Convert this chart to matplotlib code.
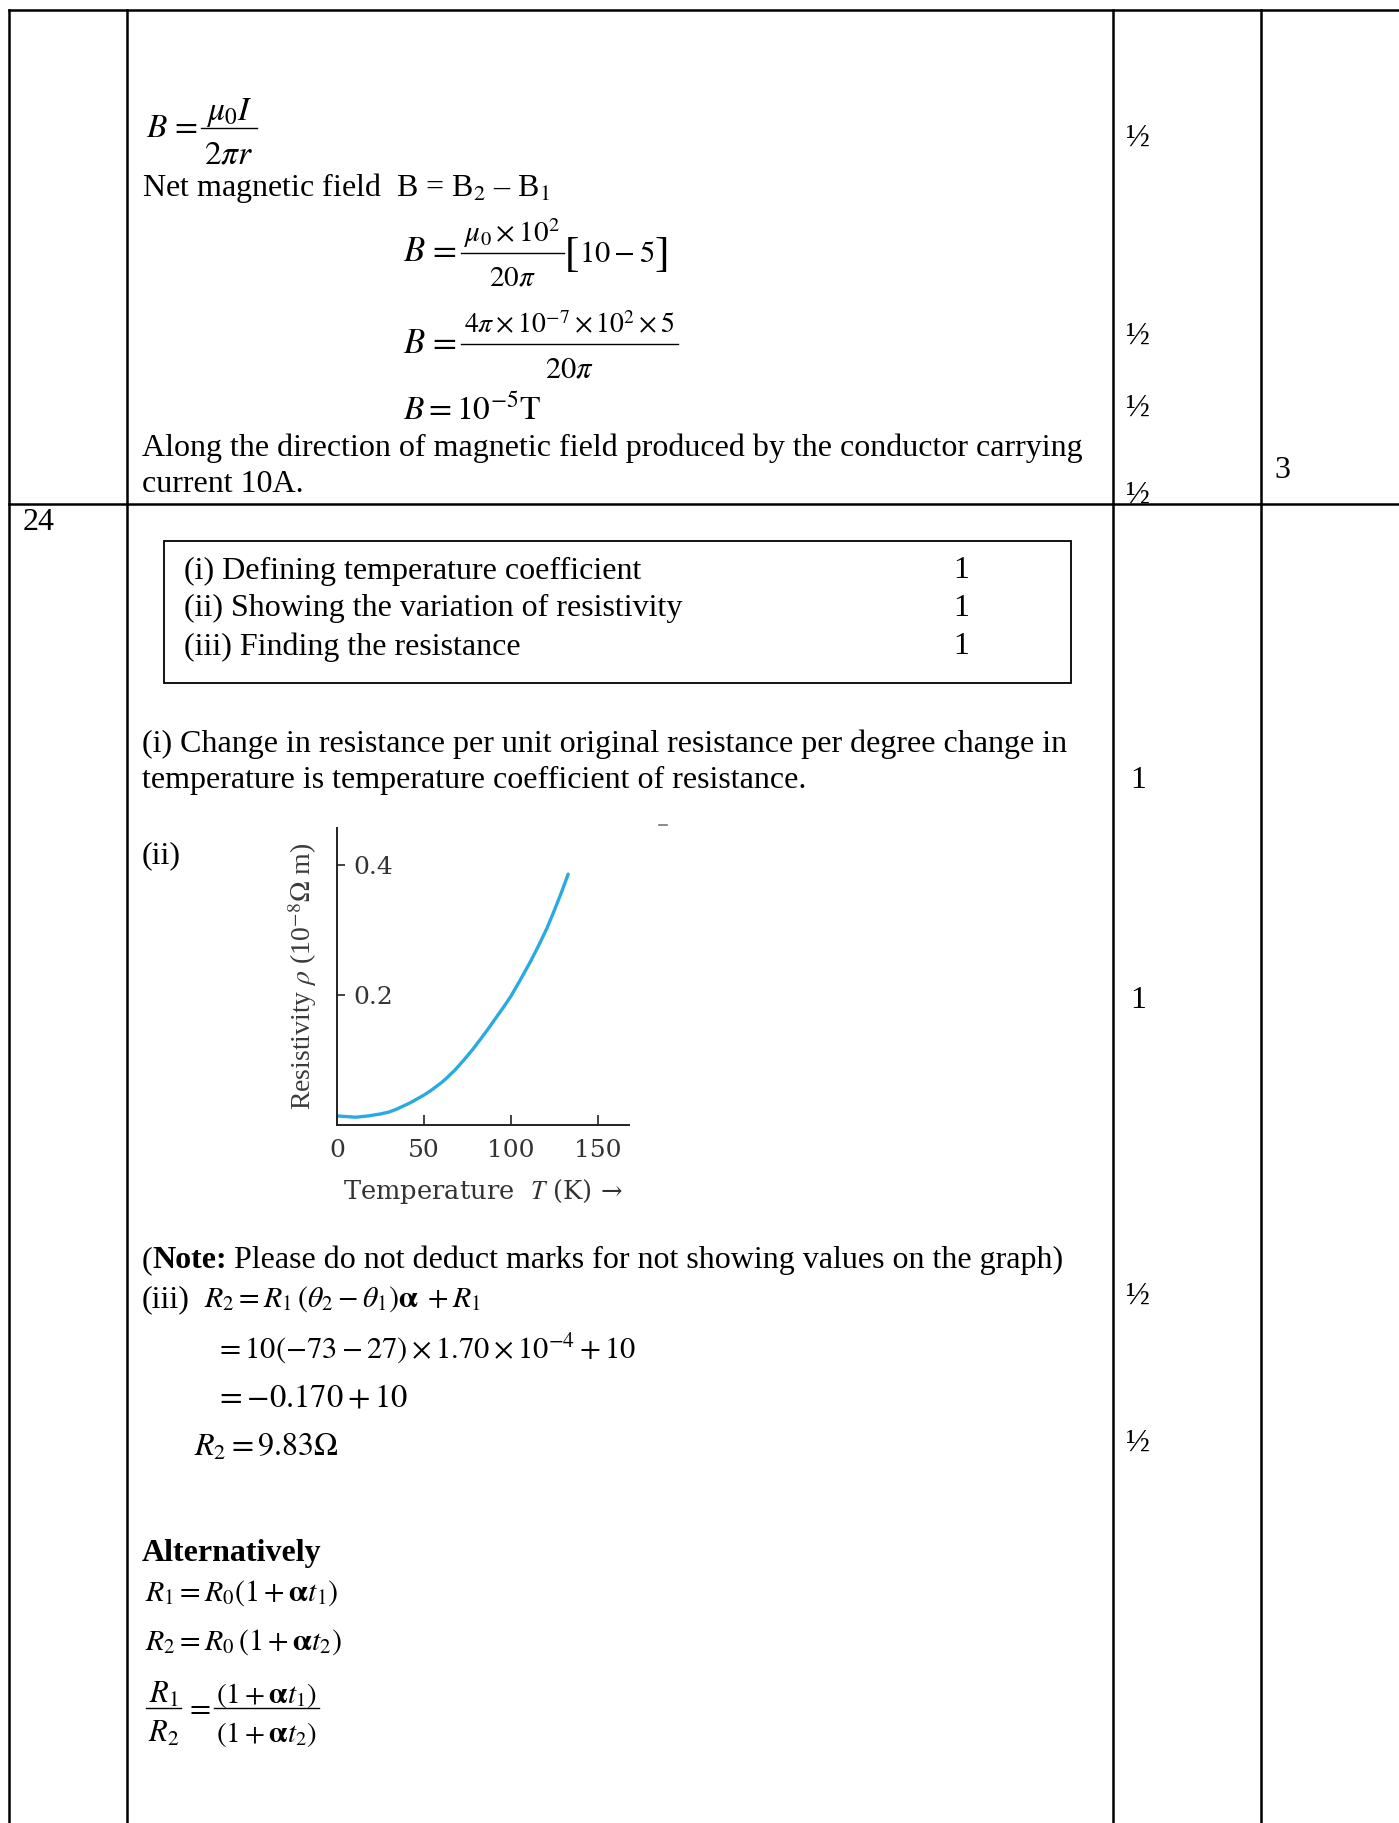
import numpy as np
import matplotlib.pyplot as plt
from matplotlib.patches import Rectangle

plt.rcParams['font.family'] = ['Liberation Serif', 'DejaVu Serif']
plt.rcParams['mathtext.fontset'] = 'stix'

# resistivity curve
temp_K = [0, 5, 11, 18, 25, 30, 34, 38, 42, 46, 50, 54, 57, 60, 63, 68, 73, 78,
          82, 87, 92, 96, 100, 105, 111, 116, 121, 125, 129, 133]
rho = [0.014, 0.013, 0.012, 0.014, 0.017, 0.020, 0.024, 0.029, 0.034, 0.040,
       0.046, 0.053, 0.059, 0.065, 0.072, 0.085, 0.100, 0.116, 0.130, 0.148,
       0.167, 0.182, 0.198, 0.221, 0.250, 0.276, 0.304, 0.330, 0.357, 0.386]
x_ticks = [0, 50, 100, 150]
y_ticks = [0.2, 0.4]
y_tick_labels = ['0.2', '0.4']

# marks column (text, y in page pixels)
marks = [('½', 138), ('½', 336), ('½', 408), ('½', 495),
         ('1', 780), ('1', 1001), ('½', 1296), ('½', 1443)]
total_marks = [('3', 470)]

box_lines = ['(i) Defining temperature coefficient',
             '(ii) Showing the variation of resistivity',
             '(iii) Finding the resistance']
box_marks = ['1', '1', '1']

W, H = 1399, 1823
FS = 23     # body text

fig = plt.figure(figsize=(W / 100, H / 100), dpi=100)
page = fig.add_axes([0, 0, 1, 1])
page.set_xlim(0, W)
page.set_ylim(H, 0)
page.axis('off')
renderer = fig.canvas.get_renderer()

#Table grid
lw = 1.8
page.plot([9, W], [10, 10], color='black', lw=lw)
page.plot([9, W], [504, 504], color='black', lw=lw)
for x in [9, 127, 1113, 1261]:
    page.plot([x, x], [10, H], color='black', lw=lw)

def txt(x, y, s, **kw):
    kw.setdefault('fontsize', FS)
    return page.text(x, y, s, va='center', ha='left', **kw)

def width(t):
    return t.get_window_extent(renderer).width

def seq(x, base, parts):
    # parts: (string, fontsize, weight, gap after)
    for s, fs, wt, gap in parts:
        t = page.text(x, base, s, va='baseline', ha='left', fontsize=fs, fontweight=wt)
        x += width(t) + gap
    return x

def frac(x, bar, num, den, up, down, fs_num, fs_den, pad=4):
    tn = page.text(x, bar - up, num, va='baseline', ha='center', fontsize=fs_num)
    td = page.text(x, bar + down, den, va='baseline', ha='center', fontsize=fs_den)
    w = max(width(tn), width(td)) + 2 * pad
    tn.set_x(x + w / 2)
    td.set_x(x + w / 2)
    page.plot([x, x + w], [bar, bar], color='black', lw=1.0)
    return x + w

#Question 23 (end)
x = seq(146, 137, [(r'$B\;\!=$', 24, 'normal', 4)])
frac(x, 128, r'$\mu_0 I$', r'$2\pi r$', 8, 35, 24, 24, pad=3)
txt(142, 188, 'Net magnetic field  B = B$_2$ – B$_1$')

x = seq(403, 261, [(r'$B\;\!=$', 25, 'normal', 5)])
x = frac(x, 253, r'$\mu_0\times10^2$', r'$20\pi$', 11, 32, 21, 21, pad=3)
x = seq(x + 1, 266, [('[', 31, 'normal', 0)])
x = seq(x, 262, [(r'$10-5$', 22, 'normal', 0)])
seq(x, 266, [(']', 31, 'normal', 0)])

x = seq(403, 353, [(r'$B\;\!=$', 25, 'normal', 5)])
frac(x, 344, r'$4\pi\times10^{-7}\times10^2\times5$', r'$20\pi$', 11, 33, 20, 22, pad=3)

seq(403, 420, [(r'$B=10^{-5}\mathrm{T}$', 24, 'normal', 0)])
txt(142, 448, 'Along the direction of magnetic field produced by the conductor carrying')
txt(142, 485, 'current 10A.')

#Question 24
txt(23, 522, '24')
page.add_patch(Rectangle((164, 541), 1071 - 164, 683 - 541, fill=False,
                         ec='black', lw=1.3))
for s, m, y in zip(box_lines, box_marks, [571, 608, 647]):
    txt(184, y, s)
    txt(953, y, m)

txt(142, 744, '(i) Change in resistance per unit original resistance per degree change in')
txt(142, 780, 'temperature is temperature coefficient of resistance.')
txt(142, 856, '(ii)')

seq(142, 1268, [('(', FS, 'normal', 0), ('Note:', FS, 'bold', 7),
                ('Please do not deduct marks for not showing values on the graph)', FS, 'normal', 0)])
x = seq(142, 1307, [('(iii)', FS, 'normal', 14)])
seq(x, 1307, [(r'$R_2=R_1\,(\theta_2-\theta_1)\mathbf{\alpha}\;+R_1$', 21.5, 'normal', 0)])
seq(215, 1358, [(r'$=10(-73-27)\times1.70\times10^{-4}+10$', 22, 'normal', 0)])
seq(215, 1407, [(r'$=-0.170+10$', 23.5, 'normal', 0)])
seq(194, 1456, [(r'$R_2=9.83\Omega$', 23, 'normal', 0)])

txt(142, 1554, 'Alternatively', fontweight='bold')
seq(145, 1601, [(r'$R_1=R_0(1+\mathbf{\alpha}t_1)$', 21.5, 'normal', 0)])
seq(145, 1650, [(r'$R_2=R_0\,(1+\mathbf{\alpha}t_2)$', 21.5, 'normal', 0)])
x = frac(146, 1708, r'$R_1$', r'$R_2$', 5, 34, 22, 22, pad=2)
x = seq(x + 4, 1716, [(r'$=$', 22, 'normal', 3)])
frac(x, 1708, r'$(1+\mathbf{\alpha}t_1)$', r'$(1+\mathbf{\alpha}t_2)$', 5, 34, 21, 21, pad=2)

for m, y in marks:
    x = 1126 if m == '½' else 1130
    txt(x, y, m)
for m, y in total_marks:
    txt(1274, y, m)

# small scan mark above the graph
page.plot([659, 667], [825, 825], color='#777777', lw=1.2)

#Resistivity graph
x0, x1, y0, y1 = 337, 629, 828, 1125
ax = fig.add_axes([x0 / W, 1 - y1 / H, (x1 - x0) / W, (y1 - y0) / H])
ax.plot(temp_K, rho, color='#29ABE2', lw=2.4, solid_capstyle='round',
        solid_joinstyle='round')
ax.set_xlim(0, 168)
ax.set_ylim(0, 0.457)
ax.spines['top'].set_visible(False)
ax.spines['right'].set_visible(False)
for sp in ['left', 'bottom']:
    ax.spines[sp].set_linewidth(1.4)
    ax.spines[sp].set_color('#222222')
ax.patch.set_alpha(0)

ax.set_xticks(x_ticks)
ax.set_xticklabels([str(t) for t in x_ticks])
ax.set_yticks(y_ticks)
ax.set_yticklabels(y_tick_labels)
ax.tick_params(axis='x', direction='in', length=7, width=1.2, pad=10,
               labelsize=18, labelcolor='#333333', color='#222222')
ax.tick_params(axis='y', direction='in', length=6, width=1.2, pad=-11.5,
               labelsize=18, labelcolor='#333333', color='#222222')
for lab in ax.get_yticklabels():
    lab.set_horizontalalignment('left')
for lab in ax.get_xticklabels() + ax.get_yticklabels():
    lab.set_fontfamily('DejaVu Serif')

ax.set_xlabel(r'Temperature  $T$ (K) →', fontsize=18.5,
              color='#333333', labelpad=11, fontfamily='DejaVu Serif')
ax.set_ylabel(r'Resistivity $\rho$ (10$^{-8}\Omega$ m)', fontsize=20,
              color='#3a3a3a', labelpad=13)

fig.savefig('out.png', dpi=100)
